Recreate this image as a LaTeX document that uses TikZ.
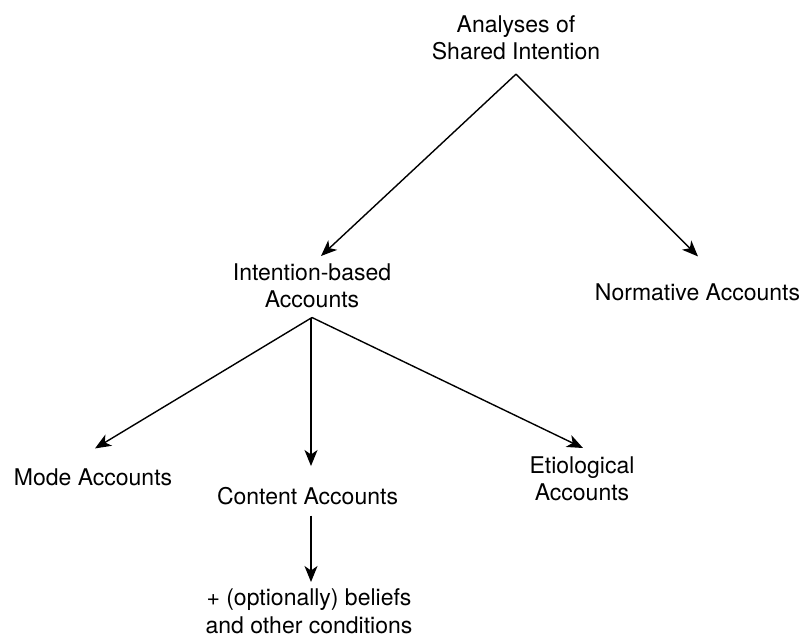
\documentclass[tikz,border=0pt]{standalone}
\usepackage{fontspec}
\setmainfont{TeX Gyre Heros}
\usetikzlibrary{arrows.meta}
\begin{document}
\begin{tikzpicture}[x=1pt,y=-1pt,
  lbl/.style={inner sep=0pt,align=center,font=\fontsize{23}{27.5}\selectfont},
  arr/.style={line width=1.4pt,-{Stealth[length=16pt,width=13pt,inset=4.5pt]}}]
\useasboundingbox (0,0) rectangle (804,637);
\node[lbl,anchor=north] (top) at (516,15) {Analyses of\\Shared Intention};
\node[lbl,anchor=north] (ib) at (312,263.5) {Intention-based\\Accounts};
\node[lbl,anchor=base] (norm) at (697.5,300) {Normative Accounts};
\node[lbl,anchor=base] (mode) at (93,485) {Mode Accounts};
\node[lbl,anchor=base] (cont) at (307.5,504) {Content Accounts};
\node[lbl,anchor=north] (etio) at (582,456.5) {Etiological\\Accounts};
\node[lbl,anchor=north] (bel) at (309,588.5) {+ (optionally) beliefs\\and other conditions};
\draw[arr] ([yshift=-14pt]top.south) -- ([xshift=9pt,yshift=7.5pt]ib.north);
\draw[arr] ([yshift=-14pt]top.south) -- ([xshift=0.5pt,yshift=26.6pt]norm.north);
\draw[arr] ([yshift=-9pt]ib.south) -- ([xshift=2pt,yshift=19.6pt]mode.north);
\draw[arr] ([xshift=-1pt,yshift=-9pt]ib.south) -- ([xshift=3.5pt,yshift=20.6pt]cont.north);
\draw[arr] ([yshift=-9pt]ib.south) -- ([xshift=1pt,yshift=8.5pt]etio.north);
\draw[arr] ([xshift=3.5pt,yshift=-11pt]cont.south) -- ([xshift=2pt,yshift=6.5pt]bel.north);
\end{tikzpicture}
\end{document}
